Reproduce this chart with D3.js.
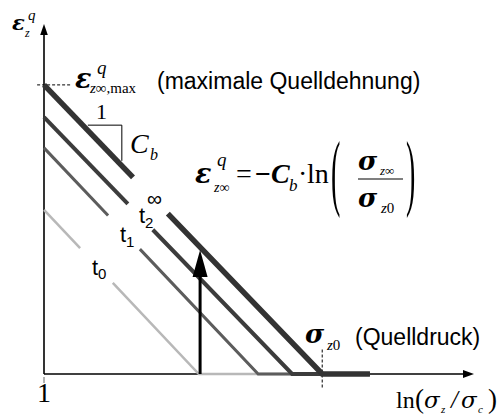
<!DOCTYPE html>
<html>
<head>
<meta charset="utf-8">
<script src="https://cdn.jsdelivr.net/npm/d3@7"></script>
<style>
  body { margin: 0; background: #fff; }
  .serif { font-family: "Liberation Serif", "Times New Roman", serif; }
  .greek { font-family: "DejaVu Serif", serif; }
  .sans { font-family: "Liberation Sans", Arial, sans-serif; }
</style>
</head>
<body>
<svg width="502" height="414"></svg>
<script>
// curves for the times t0, t1, t2 and t-infinity
const curves = ['t0', 't1', 't2', 'tinf'];
const startStrain = [46.9, 64.6, 73.4, 82.6];   // strain at ln(sz/sc) = 0
const zeroAt = [36.0, 49.8, 57.7, 64.7];         // ln value where the strain reaches zero
const tailEnd = 75.8;                            // end of the flat part on the axis
const gapFrom = [8.4, 14.9, 19.5, 20.7];         // gaps in the lines for the labels
const gapTo = [16.0, 22.3, 25.3, 28.8];
const colors = ['#b8b8b8', '#5c5c5c', '#3c3c3c', '#333333'];
const widths = [2.5, 3, 4, 5.5];

const arrowX = 36.3;
const slopeX = [10.2, 18.1];
const slopeY = [71.1, 60.9];

const width = 502;
const height = 414;

const svg = d3.select('svg');

const x = d3.scaleLinear().domain([0, 100]).range([44, 474]);
const y = d3.scaleLinear().domain([0, 100]).range([374, 24]);

const strainAt = (i, v) => Math.max(0, startStrain[i] * (1 - v / zeroAt[i]));

// axes
const axisX = d3.axisBottom(x).tickValues([0]).tickSize(0).tickFormat('');
svg.append('g')
   .attr('transform', 'translate(0,' + y(0) + ')')
   .call(axisX)
   .call(g => g.select('.domain').attr('stroke', '#000').attr('stroke-width', 1.6).attr('d', 'M' + x(0) + ',0H' + (x(100) - 8)));

const axisY = d3.axisLeft(y).tickValues([]).tickSize(0);
svg.append('g')
   .attr('transform', 'translate(' + x(0) + ',0)')
   .call(axisY)
   .call(g => g.select('.domain').attr('stroke', '#000').attr('stroke-width', 1.6).attr('d', 'M0,' + y(0) + 'V' + (y(100) + 9)));

// arrow heads of the axes
svg.append('path')
   .attr('d', 'M' + x(100) + ',' + y(0) + 'l-11,-4v8z')
   .attr('fill', '#000');
svg.append('path')
   .attr('d', 'M' + x(0) + ',' + y(100) + 'l-3.8,11h7.6z')
   .attr('fill', '#000');

// small tick at the origin
svg.append('line')
   .attr('x1', x(0)).attr('x2', x(0))
   .attr('y1', y(0) + 3).attr('y2', y(0) + 9)
   .attr('stroke', '#666').attr('stroke-width', 1);

// dashed helper lines
svg.append('line')
   .attr('x1', x(-1.6)).attr('x2', x(6.5))
   .attr('y1', y(startStrain[3])).attr('y2', y(startStrain[3]))
   .attr('stroke', '#000').attr('stroke-width', 1).attr('stroke-dasharray', '3,2');
svg.append('line')
   .attr('x1', x(zeroAt[3])).attr('x2', x(zeroAt[3]))
   .attr('y1', y(7)).attr('y2', y(-4))
   .attr('stroke', '#000').attr('stroke-width', 1).attr('stroke-dasharray', '3,2');

// slope triangle
svg.append('path')
   .attr('d', d3.line()([[x(slopeX[0]), y(slopeY[0])], [x(slopeX[1]), y(slopeY[0])], [x(slopeX[1]), y(slopeY[1])]]))
   .attr('fill', 'none').attr('stroke', '#000').attr('stroke-width', 1);

// the curves, split around the label gaps
const line = d3.line().x(d => x(d[0])).y(d => y(d[1]));
curves.forEach((c, i) => {
  const first = [[0, startStrain[i]], [gapFrom[i], strainAt(i, gapFrom[i])]];
  const second = [[gapTo[i], strainAt(i, gapTo[i])], [zeroAt[i], 0], [tailEnd, 0]];
  [first, second].forEach(pts => {
    svg.append('path')
       .attr('class', 'curve ' + c)
       .attr('d', line(pts))
       .attr('fill', 'none')
       .attr('stroke', colors[i])
       .attr('stroke-width', widths[i])
       .attr('stroke-linejoin', 'miter');
  });
});

// vertical arrow from the axis up to the final curve
const arrowTop = strainAt(3, arrowX);
svg.append('line')
   .attr('x1', x(arrowX)).attr('x2', x(arrowX))
   .attr('y1', y(0)).attr('y2', y(arrowTop) + 20)
   .attr('stroke', '#000').attr('stroke-width', 3);
svg.append('path')
   .attr('d', 'M' + x(arrowX) + ',' + (y(arrowTop) + 3) + 'l-7.5,27h15z')
   .attr('fill', '#000');

// text helper
const txt = (s, px, py, size, cls, style, weight) => {
  return svg.append('text')
     .attr('class', cls)
     .attr('x', px).attr('y', py)
     .attr('font-size', size)
     .attr('font-style', style || 'normal')
     .attr('font-weight', weight || 'normal')
     .text(s);
};

// y label
txt('ε', 12, 30, 21, 'greek', 'italic', 'bold');
txt('q', 28, 20, 15, 'serif', 'italic');
txt('z', 25, 37, 12, 'serif', 'italic');

// maximum swelling strain
txt('ε', 75, 88, 27, 'greek', 'italic', 'bold');
txt('q', 97, 74, 19, 'serif', 'italic');
const sub = txt('z', 90, 93, 15, 'serif', 'italic');
sub.append('tspan').attr('font-style', 'normal').text('∞,max');
txt('(maximale Quelldehnung)', 157, 89, 23, 'sans');

// slope labels
txt('1', 96, 119, 22, 'serif');
txt('C', 130, 153, 28, 'serif', 'italic');
txt('b', 150, 160, 16, 'serif', 'italic');

// formula
txt('ε', 195, 183, 27, 'greek', 'italic', 'bold');
txt('q', 217, 166, 19, 'serif', 'italic');
const sub2 = txt('z', 214, 192, 14, 'serif', 'italic');
sub2.append('tspan').attr('font-style', 'normal').text('∞');
txt('=', 236, 183, 28, 'serif');
const minusC = txt('−', 255, 183, 28, 'serif', 'normal', 'bold');
minusC.append('tspan').attr('font-style', 'italic').text('C');
txt('b', 289, 191, 17, 'serif', 'italic');
txt('·', 298, 183, 28, 'serif');
txt('ln', 307, 183, 28, 'serif');
svg.append('text').attr('class', 'serif').attr('font-size', 85)
   .attr('transform', 'translate(331,200) scale(0.33,1)').text('(');
svg.append('text').attr('class', 'serif').attr('font-size', 85)
   .attr('transform', 'translate(406,200) scale(0.33,1)').text(')');
txt('σ', 358, 170, 26, 'greek', 'italic', 'bold');
const sub3 = txt('z', 380, 175, 13, 'serif', 'italic');
sub3.append('tspan').attr('font-style', 'normal').text('∞');
svg.append('line').attr('x1', 358).attr('x2', 403).attr('y1', 179).attr('y2', 179)
   .attr('stroke', '#000').attr('stroke-width', 1.2);
txt('σ', 358, 207, 26, 'greek', 'italic', 'bold');
const sub4 = txt('z', 381, 213, 15, 'serif', 'italic');
sub4.append('tspan').attr('font-style', 'normal').text('0');

// time labels
txt('t', 92, 275, 22, 'sans');
txt('0', 98, 279, 15, 'sans');
txt('t', 120, 242, 22, 'sans');
txt('1', 126, 247, 15, 'sans');
txt('t', 139, 223, 22, 'sans');
txt('2', 145, 228, 15, 'sans');
txt('∞', 147, 206, 21, 'sans');

// swelling pressure
txt('σ', 305, 343, 26, 'greek', 'italic', 'bold');
const sub5 = txt('z', 327, 350, 15, 'serif', 'italic');
sub5.append('tspan').attr('font-style', 'normal').text('0');
txt('(Quelldruck)', 355, 345, 23, 'sans');

// x label
txt('ln', 396, 408, 24, 'serif');
txt('(', 415, 408, 27, 'serif');
txt('σ', 424, 408, 23, 'greek', 'italic');
txt('z', 441, 413, 11, 'serif', 'italic');
txt('/', 451, 408, 25, 'serif', 'italic');
txt('σ', 461, 408, 23, 'greek', 'italic');
txt('c', 478, 413, 11, 'serif', 'italic');
txt(')', 488, 408, 27, 'serif');

// origin label
txt('1', 37, 402, 28, 'serif');
</script>
</body>
</html>
